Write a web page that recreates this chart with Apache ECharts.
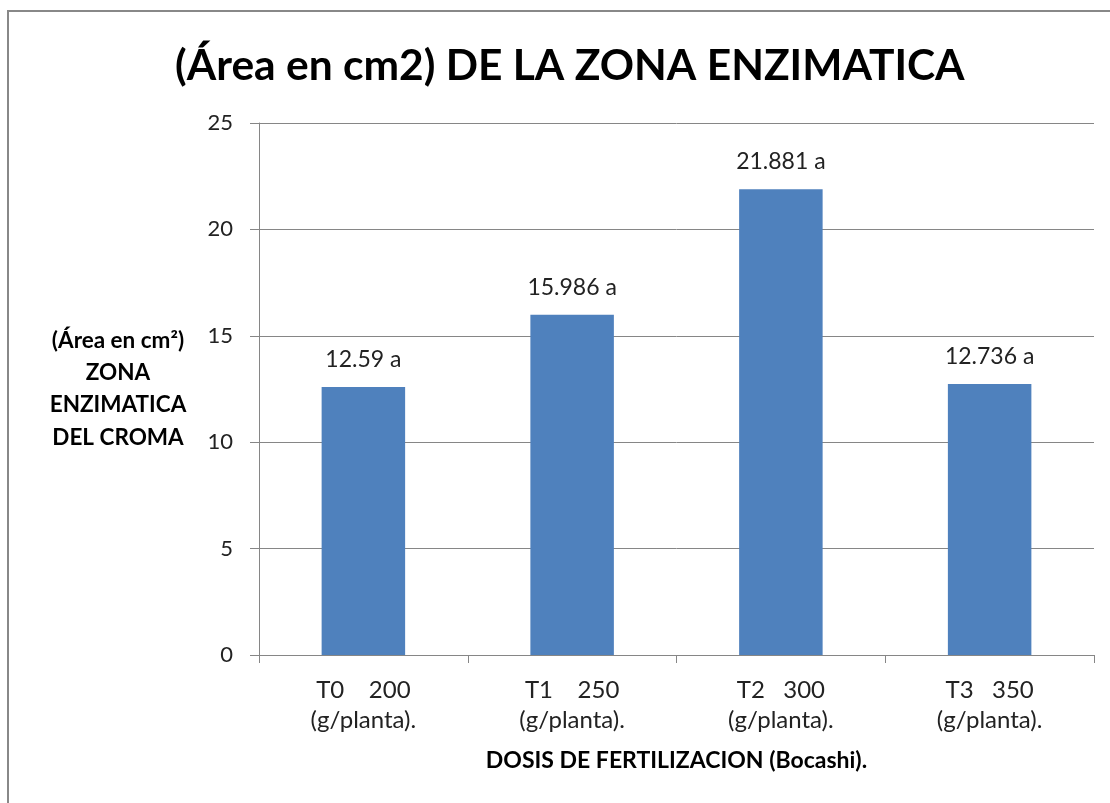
<!DOCTYPE html>
<html><head><meta charset="utf-8">
<script src="https://cdn.jsdelivr.net/npm/echarts@6/dist/echarts.min.js"></script>
<style>html,body{margin:0;padding:0;background:#fff}#c{width:1110px;height:803px}</style>
</head><body><div id="c"></div>
<script>
const categories = ['T0    200\n(g/planta).', 'T1    250\n(g/planta).', 'T2   300\n(g/planta).', 'T3   350\n(g/planta).'];
const values = [12.59, 15.986, 21.881, 12.736];
const labels = ['12.59 a', '15.986 a', '21.881 a', '12.736 a'];
const yTicks = [0, 5, 10, 15, 20, 25];

const FONT = 'Lato, "Open Sans", sans-serif';
const chart = echarts.init(document.getElementById('c'));
chart.setOption({
  animation: false,
  backgroundColor: '#fff',
  graphic: [{
    type: 'rect', shape: {x: 8, y: 11, width: 1120, height: 820},
    style: {fill: 'none', stroke: '#888', lineWidth: 2}
  }],
  title: {
    text: '(Área en cm2) DE LA ZONA ENZIMATICA',
    left: 170, top: 40,
    textStyle: {fontFamily: FONT, fontWeight: 'bold', fontSize: 42.5, color: '#000'}
  },
  grid: {left: 259, right: 16, top: 123, bottom: 148},
  xAxis: {
    type: 'category', data: categories,
    name: 'DOSIS DE FERTILIZACION (Bocashi).',
    nameLocation: 'middle', nameGap: 94,
    nameTextStyle: {fontFamily: FONT, fontWeight: 'bold', fontSize: 23, color: '#000'},
    axisLine: {lineStyle: {color: '#868686'}},
    axisTick: {show: true, length: 8, lineStyle: {color: '#868686'}},
    axisLabel: {fontFamily: FONT, fontSize: 24, color: '#222', lineHeight: 30, margin: 20}
  },
  yAxis: {
    type: 'value', min: 0, max: 25, interval: 5,
    name: '(Área en cm²)\nZONA\nENZIMATICA\nDEL CROMA',
    nameLocation: 'middle', nameRotate: 0, nameGap: 141,
    nameTextStyle: {fontFamily: FONT, fontWeight: 'bold', fontSize: 22.5, color: '#000', lineHeight: 32.3, align: 'center', padding: [6, 0, 0, 0]},
    axisLine: {show: true, lineStyle: {color: '#868686'}},
    axisTick: {show: true, length: 9, lineStyle: {color: '#868686'}},
    splitLine: {lineStyle: {color: '#868686'}},
    axisLabel: {fontFamily: FONT, fontSize: 22, color: '#222', margin: 26,
      formatter: v => yTicks.includes(v) ? String(v) : ''}
  },
  series: [{
    type: 'bar', data: values, barWidth: '40%',
    itemStyle: {color: '#4F81BD'},
    label: {show: true, position: 'top', distance: 16,
      fontFamily: FONT, fontSize: 23, color: '#222',
      formatter: p => labels[p.dataIndex]}
  }]
});
</script></body></html>
